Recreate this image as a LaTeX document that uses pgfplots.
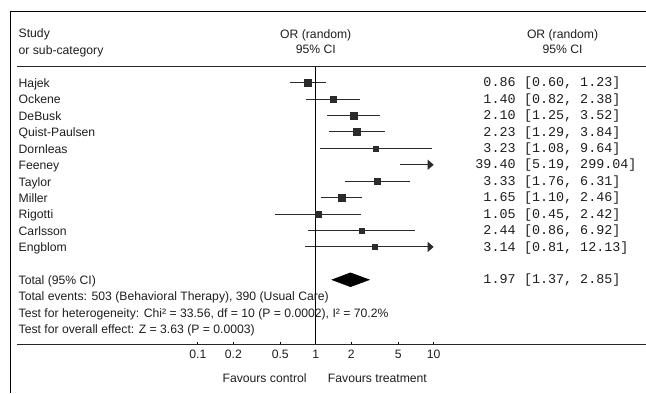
\documentclass[border=0pt]{standalone}
\usepackage{pgfplots}
\pgfplotsset{compat=1.18}
\usepackage{fontspec}
\setmainfont{Liberation Sans}
\newfontfamily\monofont{Liberation Mono}
\usetikzlibrary{arrows.meta}
\newcommand\sz{\fontsize{12.2bp}{14.8bp}\selectfont}
\newcommand\mz{\monofont\fontsize{13.4bp}{15bp}\selectfont}
\definecolor{ink}{HTML}{2B2B2B}
\definecolor{txt}{HTML}{1E1E1E}
\begin{document}
\begin{tikzpicture}
\begin{axis}[
  at={(198bp,-345bp)}, anchor=south west,
  scale only axis, width=236bp, height=333bp,
  xmode=log, xmin=0.1, xmax=10,
  ymin=-15.955, ymax=4.30,
  axis line style={draw=none},
  xtick={0.1,0.2,0.5,1,2,5,10},
  xticklabels={0.1,0.2,0.5,1,2,5,10},
  xminorticks=false,
  xtick pos=bottom, ytick=\empty,
  tick align=inside, major tick length=3bp,
  tick style={black, line width=0.8bp},
  xticklabel style={font=\sz, text=txt, inner sep=1bp, yshift=-4.5bp},
  clip=false,
]
% confidence intervals (study index i drawn at y = -i)
\addplot[ink, line width=0.9bp, unbounded coords=jump] coordinates {
  (0.60,0) (1.23,0) (nan,nan)
  (0.82,-1) (2.38,-1) (nan,nan)
  (1.25,-2) (3.52,-2) (nan,nan)
  (1.29,-3) (3.84,-3) (nan,nan)
  (1.08,-4) (9.64,-4) (nan,nan)
  (1.76,-6) (6.31,-6) (nan,nan)
  (1.10,-7) (2.46,-7) (nan,nan)
  (0.45,-8) (2.42,-8) (nan,nan)
  (0.86,-9) (6.92,-9)
};
% intervals running past the axis limit 10 (Feeney 299.04, Engblom 12.13)
\addplot[ink, line width=0.9bp, -{Triangle[length=6bp,width=10bp]}] coordinates {(5.19,-5) (10,-5)};
\addplot[ink, line width=0.9bp, -{Triangle[length=6bp,width=10bp]}] coordinates {(0.81,-10) (10,-10)};
% point estimates (Feeney's 39.40 lies off the plotted range)
\addplot[scatter, only marks, mark=square*, point meta=explicit,
  scatter/use mapped color={draw=ink, fill=ink},
  visualization depends on={\thisrow{r} \as \perpointmarksize},
  scatter/@pre marker code/.append style={/tikz/mark size=\perpointmarksize, /tikz/line width=0.2pt}]
  table[x=x, y=y, meta=r] {
x y r
0.86 0 3.6
1.40 -1 3.3
2.10 -2 3.4
2.23 -3 3.4
3.23 -4 2.6
3.33 -6 3.3
1.65 -7 3.6
1.05 -8 2.8
2.44 -9 2.6
3.14 -10 2.6
};
% pooled estimate
\addplot[fill=black, draw=black] coordinates {(1.37,-12) (1.97,-11.574) (2.85,-12) (1.97,-12.426)} -- cycle;
\draw[black, line width=0.9bp] (axis cs:1,0.973) -- (axis cs:1,-15.955);
\end{axis}
\begin{scope}[x=1bp,y=-1bp,every node/.style={text=txt}]
\path (0,0) rectangle (646,393);
\draw[black, line width=1bp] (646,12) -- (11,12) -- (11,393);
\draw[black!85, line width=1bp] (17,66.7) -- (646,66.7);
\draw[black!85, line width=1bp] (17,345) -- (646,345);
% headers
\node[anchor=base west, inner sep=0] at (18.5,37.6) {\sz Study};
\node[anchor=base west, inner sep=0] at (18.5,54.2) {\sz or sub-category};
\node[anchor=base, inner sep=0] at (316,38.4) {\sz OR (random)};
\node[anchor=base, inner sep=0] at (316,53.6) {\sz 95\% CI};
\node[anchor=base, inner sep=0] at (563,38.4) {\sz OR (random)};
\node[anchor=base, inner sep=0] at (563,53.6) {\sz 95\% CI};
% study names
\foreach \name [count=\i from 0] in {Hajek,Ockene,DeBusk,Quist-Paulsen,Dornleas,Feeney,Taylor,Miller,Rigotti,Carlsson,Engblom}
  \node[anchor=base west, inner sep=0] at (18.5,{87.6+16.44*\i}) {\sz \name};
% estimates
\foreach \e [count=\i from 0] in {0.86,1.40,2.10,2.23,3.23,39.40,3.33,1.65,1.05,2.44,3.14}
  \node[anchor=base east, inner sep=0] at (516.2,{86.9+16.44*\i}) {\mz \e};
\node[anchor=base west, inner sep=0] at (524.2,86.90) {\mz [0.60, 1.23]};
\node[anchor=base west, inner sep=0] at (524.2,103.34) {\mz [0.82, 2.38]};
\node[anchor=base west, inner sep=0] at (524.2,119.78) {\mz [1.25, 3.52]};
\node[anchor=base west, inner sep=0] at (524.2,136.22) {\mz [1.29, 3.84]};
\node[anchor=base west, inner sep=0] at (524.2,152.66) {\mz [1.08, 9.64]};
\node[anchor=base west, inner sep=0] at (524.2,169.10) {\mz [5.19, 299.04]};
\node[anchor=base west, inner sep=0] at (524.2,185.54) {\mz [1.76, 6.31]};
\node[anchor=base west, inner sep=0] at (524.2,201.98) {\mz [1.10, 2.46]};
\node[anchor=base west, inner sep=0] at (524.2,218.42) {\mz [0.45, 2.42]};
\node[anchor=base west, inner sep=0] at (524.2,234.86) {\mz [0.86, 6.92]};
\node[anchor=base west, inner sep=0] at (524.2,251.30) {\mz [0.81, 12.13]};
% totals
\node[anchor=base east, inner sep=0] at (516.2,284.18) {\mz 1.97};
\node[anchor=base west, inner sep=0] at (524.2,284.18) {\mz [1.37, 2.85]};
\node[anchor=base west, inner sep=0] at (18.5,284.38) {\sz Total (95\% CI)};
\node[anchor=base west, inner sep=0] at (18.5,300.82) {\sz Total events: 503 (Behavioral Therapy), 390 (Usual Care)};
\node[anchor=base west, inner sep=0] at (18.5,317.26) {\sz Test for heterogeneity: Chi² = 33.56, df = 10 (P = 0.0002), I² = 70.2\%};
\node[anchor=base west, inner sep=0] at (18.5,333.70) {\sz Test for overall effect: Z = 3.63 (P = 0.0003)};
% axis captions
\node[anchor=base east, inner sep=0] at (307,382.7) {\sz Favours control};
\node[anchor=base west, inner sep=0] at (328,382.7) {\sz Favours treatment};
\end{scope}
\end{tikzpicture}
\end{document}
